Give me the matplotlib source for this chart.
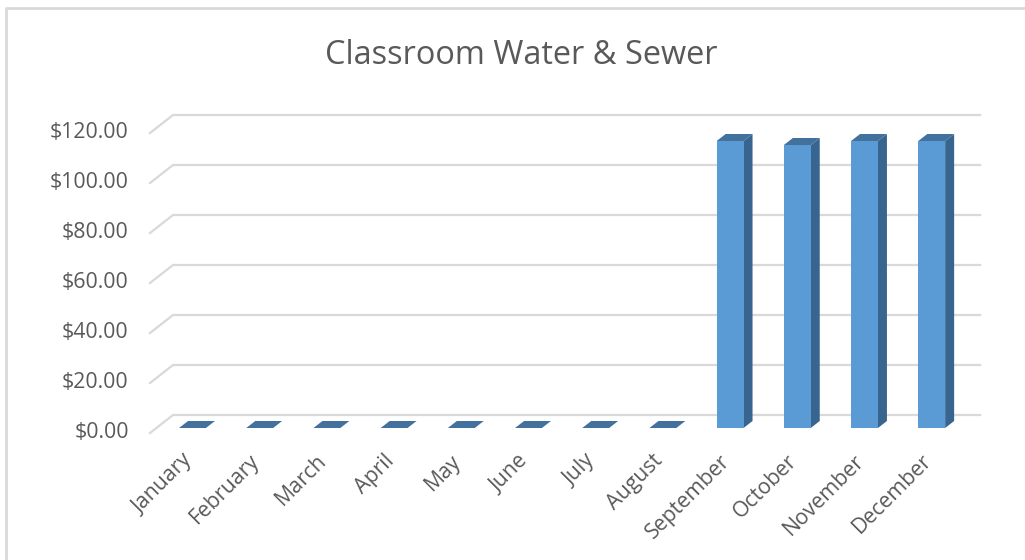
import matplotlib
matplotlib.use("Agg")
import matplotlib.pyplot as plt
from matplotlib.patches import Polygon, Rectangle
from matplotlib.lines import Line2D

months = ["January", "February", "March", "April", "May", "June",
          "July", "August", "September", "October", "November", "December"]
cost = [0, 0, 0, 0, 0, 0, 0, 0, 114.8, 113.2, 114.8, 114.8]
y_ticks = [0, 20, 40, 60, 80, 100, 120]

plt.rcParams["font.family"] = ["Open Sans", "DejaVu Sans"]
TEXT = "#595959"
FRONT = "#5b9bd5"
SIDE = "#386590"
TOP = "#41719c"
GRID = "#d9d9d9"

fig = plt.figure(figsize=(10.25, 5.6), dpi=100)
# axes over the whole figure: 1 category = 67.2 px, $1 = 2.5 px
ax = fig.add_axes([0, 0, 1, 1])
ax.set_xlim(-192.5 / 67.2, (1025 - 192.5) / 67.2)
ax.set_ylim((428 - 560) / 2.5, 428 / 2.5)
ax.axis("off")

half = 0.2          # half width of a bar
dx, dy = 0.134, 2.8  # bar depth offset
wall_x0, wall_x1 = -0.29, 11.72
stub_x = -0.632

# back wall gridlines with the small floor stub on the left
for v in y_ticks:
    ax.plot([stub_x, wall_x0, wall_x1], [v - 2, v + 5.2, v + 5.2],
            color=GRID, lw=1.6, solid_joinstyle="miter", zorder=1)
    ax.text(-0.95, v - 2, f"${v:.2f}", ha="right", va="center",
            fontsize=15.3, color=TEXT)

for i, v in enumerate(cost):
    x0, x1 = i - half, i + half
    if v > 0:
        ax.add_patch(Polygon([(x1, 0), (x1 + dx, dy), (x1 + dx, v + dy), (x1, v)],
                             closed=True, fc=SIDE, ec="none", zorder=3))
        ax.add_patch(Rectangle((x0, 0), 2 * half, v, fc=FRONT, ec="none", zorder=3))
    ax.add_patch(Polygon([(x0, v), (x1, v), (x1 + dx, v + dy), (x0 + dx, v + dy)],
                         closed=True, fc=TOP, ec="none", zorder=3))
    ax.text(i - 0.16, -9, months[i], rotation=45, rotation_mode="anchor",
            ha="right", va="top", fontsize=15.3, color=TEXT)

fig.text(521 / 1025, 1 - 55 / 560, "Classroom Water & Sewer", ha="center",
         va="center", fontsize=23.4, color=TEXT)

# outer chart border
fig.add_artist(Line2D([6 / 1025, 6 / 1025, 1], [0, 1 - 8 / 560, 1 - 8 / 560],
                      transform=fig.transFigure, color=GRID, lw=2))

fig.savefig("out.png", dpi=100)
